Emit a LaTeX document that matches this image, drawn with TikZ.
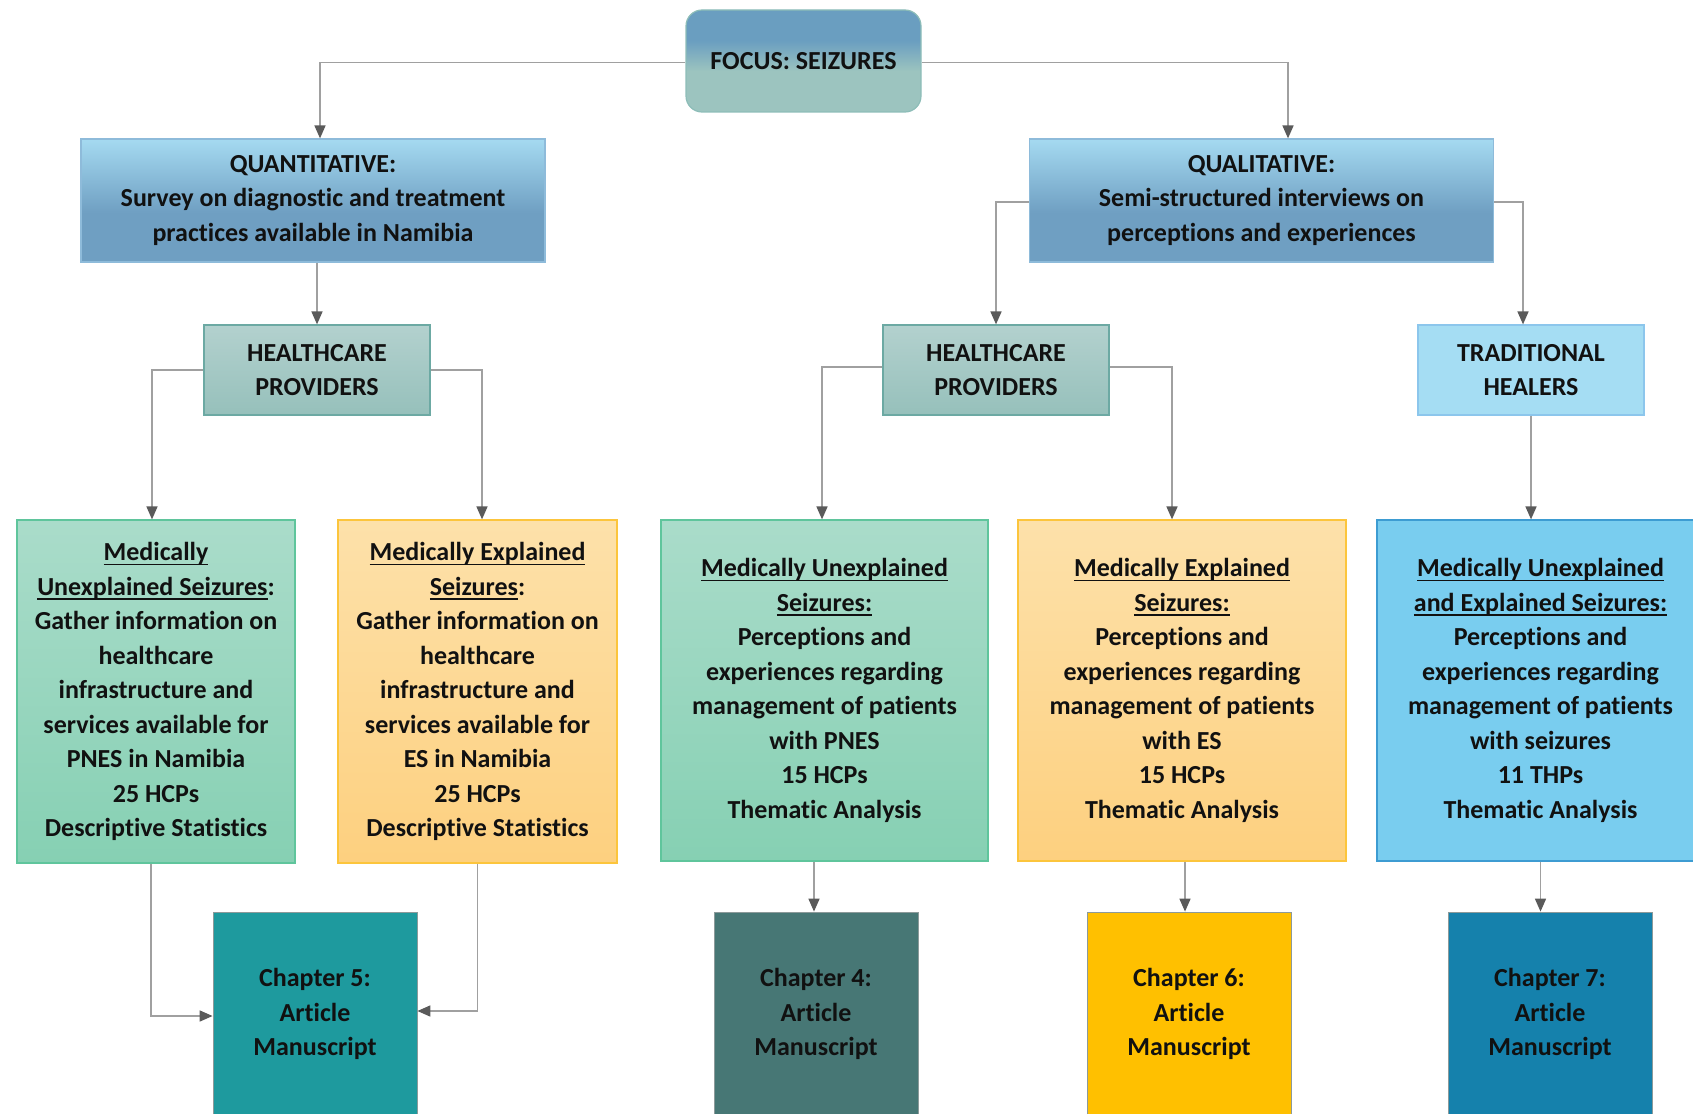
\documentclass[tikz,border=0pt]{standalone}
\usepackage{fontspec}
\setmainfont{Carlito}[Ligatures=NoCommon]
\usetikzlibrary{arrows.meta}

% underline that sits a little below the baseline, as in a word processor
\newsavebox{\ulnbox}
\newcommand{\uln}[1]{\sbox{\ulnbox}{#1}\rlap{\rule[-4.5pt]{\wd\ulnbox}{1.4pt}}\usebox{\ulnbox}}

\definecolor{txt}{HTML}{111111}
\definecolor{linegray}{HTML}{A0A0A0}
\definecolor{tipgray}{HTML}{5A5A5A}
\definecolor{focusTop}{HTML}{6A9EC0}
\definecolor{focusBot}{HTML}{9CC4BF}
\definecolor{focusEdge}{HTML}{8DBDB8}
\definecolor{methTop}{HTML}{A5DAF1}
\definecolor{methBot}{HTML}{6F9FC2}
\definecolor{methEdge}{HTML}{8EBBDA}
\definecolor{hcpTop}{HTML}{B3D1CE}
\definecolor{hcpBot}{HTML}{96C0BB}
\definecolor{hcpEdge}{HTML}{6CA9A3}
\definecolor{thFill}{HTML}{A5DDF3}
\definecolor{thEdge}{HTML}{8CC6EC}
\definecolor{grnTop}{HTML}{AADCCA}
\definecolor{grnBot}{HTML}{86D0B3}
\definecolor{grnEdge}{HTML}{5FC59C}
\definecolor{orgTop}{HTML}{FDE1AA}
\definecolor{orgBot}{HTML}{FDD07F}
\definecolor{orgEdge}{HTML}{FCC53C}
\definecolor{bluFill}{HTML}{79CDEF}
\definecolor{bluEdge}{HTML}{3D9CD2}
\definecolor{chFive}{HTML}{1E9A9E}
\definecolor{chFour}{HTML}{477775}
\definecolor{chSix}{HTML}{FFC000}
\definecolor{chSeven}{HTML}{1581AC}
\definecolor{chEdge}{HTML}{8C9A9A}

% vertical shadings (0bp = bottom, path spans 25bp..75bp)
\pgfdeclareverticalshading{focusshade}{100bp}{color(0bp)=(focusBot); color(25bp)=(focusBot); color(45bp)=(focusBot); color(60bp)=(focusTop); color(75bp)=(focusTop); color(100bp)=(focusTop)}
\pgfdeclareverticalshading{methshade}{100bp}{color(0bp)=(methBot); color(25bp)=(methBot); color(45bp)=(methBot); color(75bp)=(methTop); color(100bp)=(methTop)}

\tikzset{
  box/.style={draw, line width=1.2pt, inner sep=0pt, align=center,
    text=txt, font=\bfseries\fontsize{26}{34.5}\selectfont},
  focusbox/.style={box, draw=focusEdge, shading=focusshade, rounded corners=16pt,
    minimum width=235pt, minimum height=102pt},
  methbox/.style={box, draw=methEdge, shading=methshade,
    minimum width=464pt, minimum height=123pt},
  hcpbox/.style={box, draw=hcpEdge, top color=hcpTop, bottom color=hcpBot,
    minimum width=226pt, minimum height=90pt},
  thbox/.style={box, draw=thEdge, fill=thFill,
    minimum width=226pt, minimum height=90pt},
  grnbox/.style={box, draw=grnEdge, top color=grnTop, bottom color=grnBot},
  orgbox/.style={box, draw=orgEdge, top color=orgTop, bottom color=orgBot},
  blubox/.style={box, draw=bluEdge, fill=bluFill},
  chapbox/.style={box, draw=chEdge, line width=0.8pt,
    minimum width=204pt, minimum height=204pt},
  conn/.style={draw=linegray, line width=1.6pt,
    -{Triangle[length=13pt,width=11pt,color=tipgray]}}
}

\begin{document}
\begin{tikzpicture}[x=1pt,y=-1pt]
\useasboundingbox (0,0) rectangle (1693,1113);
\clip (0,0) rectangle (1693,1113);

% top level
\node[focusbox] (focus) at (803.5,61) {FOCUS: SEIZURES};

% methods
\node[methbox] (quant) at (313,200.5)
  {QUANTITATIVE:\\Survey on diagnostic and treatment\\practices available in Namibia};
\node[methbox] (qual) at (1261.5,200.5)
  {QUALITATIVE:\\Semi-structured interviews on\\perceptions and experiences};

% participant groups
\node[hcpbox] (hcpL) at (317,370) {HEALTHCARE\\PROVIDERS};
\node[hcpbox] (hcpM) at (996,370) {HEALTHCARE\\PROVIDERS};
\node[thbox] (th) at (1531,370) {TRADITIONAL\\HEALERS};

% studies
\node[grnbox, minimum width=278pt, minimum height=343pt] (grnL) at (156,691.5)
  {\uln{Medically}\\\uln{Unexplained Seizures}:\\Gather information on\\healthcare\\infrastructure and\\services available for\\PNES in Namibia\\25 HCPs\\Descriptive Statistics};
\node[orgbox, minimum width=279pt, minimum height=343pt] (orgL) at (477.5,691.5)
  {\uln{Medically Explained}\\\uln{Seizures}:\\Gather information on\\healthcare\\infrastructure and\\services available for\\ES in Namibia\\25 HCPs\\Descriptive Statistics};
\node[grnbox, minimum width=327pt, minimum height=341pt] (grnM) at (824.5,690.5)
  {\uln{Medically Unexplained}\\\uln{Seizures:}\\Perceptions and\\experiences regarding\\management of patients\\with PNES\\15 HCPs\\Thematic Analysis};
\node[orgbox, minimum width=328pt, minimum height=341pt] (orgM) at (1182,690.5)
  {\uln{Medically Explained}\\\uln{Seizures:}\\Perceptions and\\experiences regarding\\management of patients\\with ES\\15 HCPs\\Thematic Analysis};
\node[blubox, minimum width=327pt, minimum height=341pt] (bluR) at (1540.5,690.5)
  {\uln{Medically Unexplained}\\\uln{and Explained Seizures:}\\Perceptions and\\experiences regarding\\management of patients\\with seizures\\11 THPs\\Thematic Analysis};

% outputs
\node[chapbox, fill=chFive] (ch5) at (315,1014) {Chapter 5:\\Article\\Manuscript};
\node[chapbox, fill=chFour] (ch4) at (816,1014) {Chapter 4:\\Article\\Manuscript};
\node[chapbox, fill=chSix] (ch6) at (1189,1014) {Chapter 6:\\Article\\Manuscript};
\node[chapbox, fill=chSeven] (ch7) at (1550,1014) {Chapter 7:\\Article\\Manuscript};

% connectors
\draw[conn] ([yshift=-1.5pt]focus.west) -| ([xshift=7pt]quant.north);
\draw[conn] ([yshift=-1.5pt]focus.east) -| ([xshift=26.5pt]qual.north);
\draw[conn] (hcpL.north |- quant.south) -- (hcpL.north);
\draw[conn] (hcpL.west) -| ([xshift=-4pt]grnL.north);
\draw[conn] (hcpL.east) -| ([xshift=4.5pt]orgL.north);
\draw[conn] ([yshift=-1.5pt]qual.west) -| (hcpM.north);
\draw[conn] ([yshift=-1.5pt]qual.east) -| ([xshift=-8pt]th.north);
\draw[conn] ([yshift=3pt]hcpM.west) -| ([xshift=-2.5pt]grnM.north);
\draw[conn] ([yshift=3pt]hcpM.east) -| ([xshift=-10pt]orgM.north);
\draw[conn] (th.south) -- (th.south |- bluR.north);
\draw[conn] ([xshift=-5pt]grnL.south) |- ([yshift=-2pt]ch5.west);
\draw[conn] (orgL.south) |- ([yshift=3pt]ch5.east);
\draw[conn] ([xshift=-2pt]ch4.north |- grnM.south) -- ([xshift=-2pt]ch4.north);
\draw[conn] ([xshift=-4pt]ch6.north |- orgM.south) -- ([xshift=-4pt]ch6.north);
\draw[conn] (bluR.south) -- (bluR.south |- ch7.north);
\end{tikzpicture}
\end{document}
